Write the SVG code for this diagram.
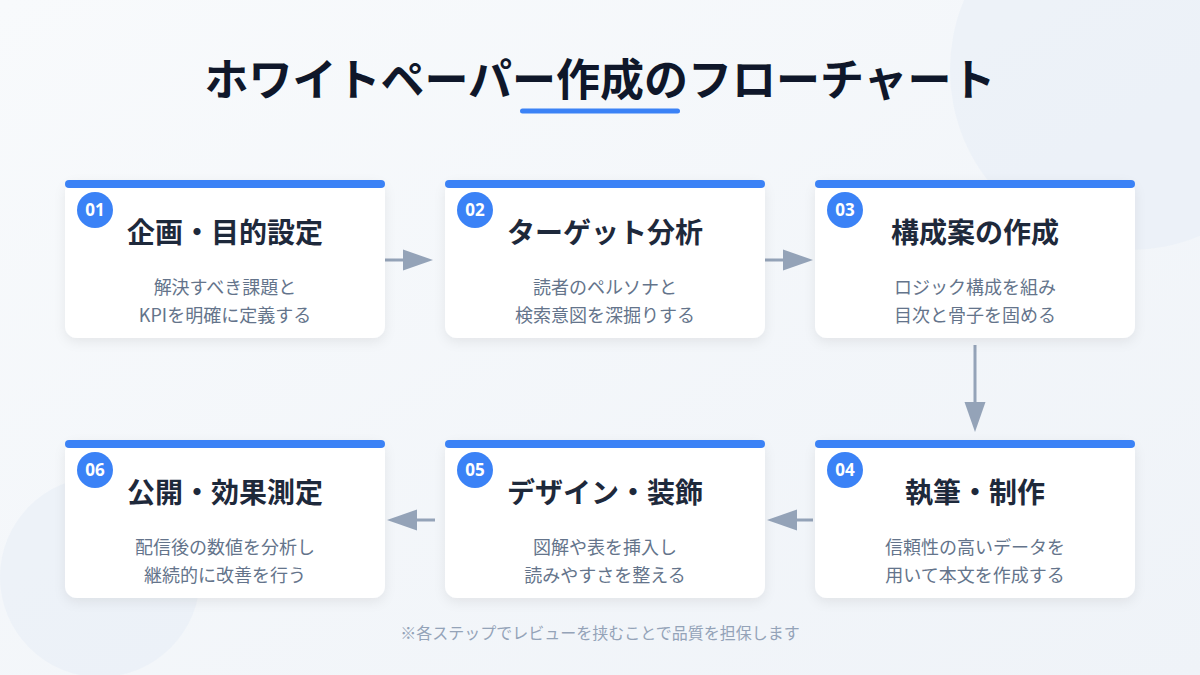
<svg xmlns="http://www.w3.org/2000/svg" width="1200" height="675" viewBox="0 0 1200 675">
  <defs>
    <linearGradient id="bg" x1="0" y1="0" x2="1" y2="1">
      <stop offset="0" stop-color="#f8fafc"/>
      <stop offset="1" stop-color="#eff3f8"/>
    </linearGradient>
    <filter id="shadow" x="-10%" y="-10%" width="120%" height="130%">
      <feDropShadow dx="0" dy="4" stdDeviation="6" flood-color="#0f172a" flood-opacity="0.07"/>
    </filter>
    <style>
      text { font-family: "Noto Sans CJK JP", "Noto Sans", sans-serif; }
      .card { fill: #ffffff; filter: url(#shadow); }
      .bar { fill: #3b82f6; }
      .badge { fill: #3b82f6; }
      .num { fill: #ffffff; font-size: 17px; font-weight: 700; text-anchor: middle; font-family: "Noto Sans", "Open Sans", sans-serif; }
      .ttl { fill: #1e293b; font-size: 28px; font-weight: 700; text-anchor: middle; }
      .desc { fill: #64748b; font-size: 18px; text-anchor: middle; }
      .conn line { stroke: #94a3b8; stroke-width: 3; }
      .conn polygon { fill: #94a3b8; }
    </style>
  </defs>

  <rect width="1200" height="675" fill="url(#bg)"/>
  <circle cx="1130" cy="70" r="180" fill="#e8eef7" opacity="0.6"/>
  <circle cx="100" cy="577" r="100" fill="#e8eef7" opacity="0.6"/>

  <g id="header">
    <text x="600" y="96" text-anchor="middle" font-size="44" font-weight="700" fill="#0f172a">ホワイトペーパー作成のフローチャート</text>
    <rect x="520" y="108.5" width="160" height="5" rx="2.5" fill="#3b82f6"/>
  </g>

  <g id="connectors" class="conn">
    <line x1="385" y1="260" x2="405" y2="260"/>
    <polygon points="433,260 403,249.5 403,270.5"/>
    <line x1="765" y1="260" x2="785" y2="260"/>
    <polygon points="813,260 783,249.5 783,270.5"/>
    <line x1="975" y1="345" x2="975" y2="405"/>
    <polygon points="975,432 964.5,402 985.5,402"/>
    <line x1="813" y1="520" x2="795" y2="520"/>
    <polygon points="767,520 797,509.5 797,530.5"/>
    <line x1="435" y1="520" x2="415" y2="520"/>
    <polygon points="387,520 417,509.5 417,530.5"/>
  </g>

  <g id="step01">
    <rect class="card" x="65" y="180" width="320" height="158" rx="12"/>
    <rect class="bar" x="65" y="180" width="320" height="8" rx="4"/>
    <circle class="badge" cx="95" cy="210" r="18"/>
    <text class="num" x="95" y="216">01</text>
    <text class="ttl" x="225" y="243">企画・目的設定</text>
    <text class="desc" x="225" y="294">解決すべき課題と</text>
    <text class="desc" x="225" y="322">KPIを明確に定義する</text>
  </g>

  <g id="step02">
    <rect class="card" x="445" y="180" width="320" height="158" rx="12"/>
    <rect class="bar" x="445" y="180" width="320" height="8" rx="4"/>
    <circle class="badge" cx="475" cy="210" r="18"/>
    <text class="num" x="475" y="216">02</text>
    <text class="ttl" x="605" y="243">ターゲット分析</text>
    <text class="desc" x="605" y="294">読者のペルソナと</text>
    <text class="desc" x="605" y="322">検索意図を深掘りする</text>
  </g>

  <g id="step03">
    <rect class="card" x="815" y="180" width="320" height="158" rx="12"/>
    <rect class="bar" x="815" y="180" width="320" height="8" rx="4"/>
    <circle class="badge" cx="845" cy="210" r="18"/>
    <text class="num" x="845" y="216">03</text>
    <text class="ttl" x="975" y="243">構成案の作成</text>
    <text class="desc" x="975" y="294">ロジック構成を組み</text>
    <text class="desc" x="975" y="322">目次と骨子を固める</text>
  </g>

  <g id="step04">
    <rect class="card" x="815" y="440" width="320" height="158" rx="12"/>
    <rect class="bar" x="815" y="440" width="320" height="8" rx="4"/>
    <circle class="badge" cx="845" cy="470" r="18"/>
    <text class="num" x="845" y="476">04</text>
    <text class="ttl" x="975" y="503">執筆・制作</text>
    <text class="desc" x="975" y="554">信頼性の高いデータを</text>
    <text class="desc" x="975" y="582">用いて本文を作成する</text>
  </g>

  <g id="step05">
    <rect class="card" x="445" y="440" width="320" height="158" rx="12"/>
    <rect class="bar" x="445" y="440" width="320" height="8" rx="4"/>
    <circle class="badge" cx="475" cy="470" r="18"/>
    <text class="num" x="475" y="476">05</text>
    <text class="ttl" x="605" y="503">デザイン・装飾</text>
    <text class="desc" x="605" y="554">図解や表を挿入し</text>
    <text class="desc" x="605" y="582">読みやすさを整える</text>
  </g>

  <g id="step06">
    <rect class="card" x="65" y="440" width="320" height="158" rx="12"/>
    <rect class="bar" x="65" y="440" width="320" height="8" rx="4"/>
    <circle class="badge" cx="95" cy="470" r="18"/>
    <text class="num" x="95" y="476">06</text>
    <text class="ttl" x="225" y="503">公開・効果測定</text>
    <text class="desc" x="225" y="554">配信後の数値を分析し</text>
    <text class="desc" x="225" y="582">継続的に改善を行う</text>
  </g>

  <g id="footer">
    <text x="600" y="639" text-anchor="middle" font-size="16" fill="#94a3b8">※各ステップでレビューを挟むことで品質を担保します</text>
  </g>
</svg>
